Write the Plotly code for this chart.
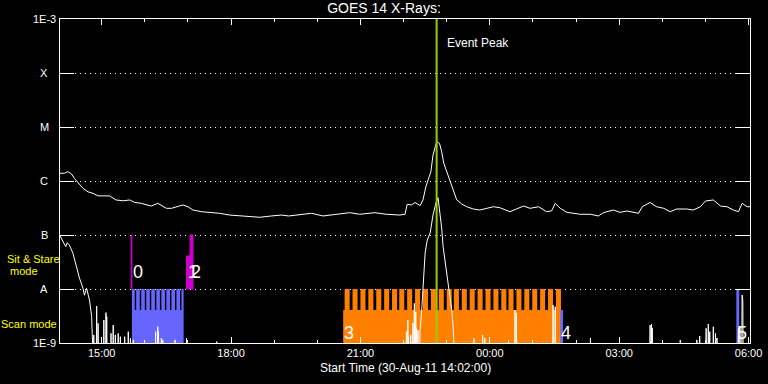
import math
import pandas as pd
import plotly.graph_objects as go

DAY0, DAY1 = "2011-08-30", "2011-08-31"


def ts(hm):
    return pd.Timestamp(f"{DAY0 if int(hm[:2]) >= 14 else DAY1} {hm}")


# ---------------- data ----------------
LEVEL_TICKS = [1e-9, 1e-8, 1e-7, 1e-6, 1e-5, 1e-4, 1e-3]
LEVEL_LABELS = ["1E-9", "A", "B", "C", "M", "X", "1E-3"]
TIME_TICKS = ["15:00", "18:00", "21:00", "00:00", "03:00", "06:00"]
TIME_RANGE = ["14:02", "06:02"]
EVENT_PEAK = "22:46"

# GOES long channel (1-8 A)
LONG_T = ["14:02", "14:08", "14:13", "14:18", "14:22", "14:27", "14:34", "14:41", "14:48", "14:55",
          "15:11", "15:20", "15:30", "15:39", "15:46", "15:55", "16:09", "16:18", "16:30", "16:37",
          "16:44", "16:53", "17:00", "17:07", "17:19", "17:33", "17:44", "17:58", "18:15", "18:29",
          "18:40", "18:56", "19:10", "19:20", "19:38", "19:52", "20:08", "20:31", "20:45", "20:59",
          "21:20", "21:36", "21:55", "22:02", "22:05", "22:11", "22:16", "22:23", "22:27", "22:31",
          "22:34", "22:38", "22:41", "22:44", "22:46", "22:50", "22:53", "22:56", "23:00", "23:05",
          "23:09", "23:14", "23:21", "23:28", "23:37", "23:46", "23:56", "00:05", "00:14", "00:28",
          "00:37", "00:47", "00:56", "01:08", "01:19", "01:26", "01:31", "01:38", "01:47", "02:06",
          "02:20", "02:31", "02:38", "02:52", "03:01", "03:11", "03:27", "03:32", "03:43", "03:52",
          "04:02", "04:11", "04:20", "04:34", "04:43", "04:53", "05:00", "05:11", "05:21", "05:30",
          "05:39", "05:46", "05:51", "05:58", "06:02"]
LONG_F = [1.39e-6, 1.39e-6, 1.49e-6, 1.35e-6, 1.12e-6, 0.93e-6, 0.73e-6, 0.63e-6, 0.59e-6, 0.53e-6,
          0.53e-6, 0.445e-6, 0.43e-6, 0.445e-6, 0.40e-6, 0.386e-6, 0.344e-6, 0.386e-6, 0.312e-6, 0.312e-6,
          0.334e-6, 0.36e-6, 0.334e-6, 0.29e-6, 0.27e-6, 0.263e-6, 0.252e-6, 0.234e-6, 0.225e-6, 0.218e-6,
          0.213e-6, 0.225e-6, 0.234e-6, 0.225e-6, 0.242e-6, 0.252e-6, 0.225e-6, 0.242e-6, 0.259e-6, 0.242e-6,
          0.259e-6, 0.242e-6, 0.234e-6, 0.242e-6, 0.37e-6, 0.36e-6, 0.40e-6, 0.35e-6, 0.445e-6, 0.78e-6,
          1.04e-6, 1.49e-6, 3.03e-6, 4.64e-6, 5.34e-6, 4.99e-6, 3.49e-6, 2.13e-6, 1.49e-6, 0.97e-6,
          0.63e-6, 0.445e-6, 0.375e-6, 0.334e-6, 0.303e-6, 0.29e-6, 0.312e-6, 0.334e-6, 0.32e-6, 0.27e-6,
          0.303e-6, 0.344e-6, 0.312e-6, 0.334e-6, 0.27e-6, 0.28e-6, 0.386e-6, 0.312e-6, 0.263e-6, 0.242e-6,
          0.242e-6, 0.225e-6, 0.259e-6, 0.29e-6, 0.263e-6, 0.278e-6, 0.252e-6, 0.334e-6, 0.40e-6, 0.334e-6,
          0.312e-6, 0.27e-6, 0.303e-6, 0.303e-6, 0.29e-6, 0.334e-6, 0.426e-6, 0.445e-6, 0.344e-6, 0.334e-6,
          0.29e-6, 0.27e-6, 0.386e-6, 0.334e-6, 0.334e-6]

# GOES short channel (0.5-4 A): continuous stretches (values below 1E-9 fall off the plot)
SHORT_DECAY_T = ["14:02", "14:06", "14:10", "14:12", "14:15", "14:20", "14:25", "14:29", "14:34",
                 "14:36", "14:39", "14:41", "14:43", "14:46", "14:47", "14:48"]
SHORT_DECAY_F = [9.6e-8, 7.5e-8, 6.1e-8, 7.2e-8, 6.5e-8, 4.6e-8, 2.6e-8, 1.6e-8, 1.03e-8,
                 7.7e-9, 1.03e-8, 7.7e-9, 6.25e-9, 3.1e-9, 1.5e-9, 5e-10]
SHORT_FLARE_T = ["22:22", "22:23", "22:25", "22:27", "22:30", "22:33", "22:37", "22:41", "22:45", "22:48",
                 "22:51", "22:53", "22:55", "22:59", "23:02", "23:05", "23:07", "23:09", "23:11"]
SHORT_FLARE_F = [5e-10, 1.74e-9, 3.6e-9, 1.29e-8, 4.64e-8, 8.1e-8, 1.09e-7, 2.35e-7, 3.9e-7, 4.9e-7,
                 2.35e-7, 1.35e-7, 6.1e-8, 2.6e-8, 1.1e-8, 6.25e-9, 4.1e-9, 2.0e-9, 5e-10]
# short channel isolated noise spikes poking above 1E-9
SPIKE_T = ["14:49", "14:53", "14:55", "15:03", "15:06", "15:07", "15:13", "15:16", "15:19", "15:23",
           "15:26", "15:32", "15:37", "15:40", "15:44", "16:15", "16:18", "16:19", "16:23", "16:25",
           "16:42", "16:58", "17:40", "22:04", "22:06", "22:07", "22:10", "22:13", "22:15", "22:17",
           "22:18", "22:20", "23:38", "23:50", "23:53", "00:26", "00:35", "00:37", "01:28", "01:31",
           "02:20", "03:43", "03:45", "03:46", "04:25", "04:48", "04:52", "05:01", "05:04", "05:06",
           "05:11", "05:14", "05:16", "05:46", "05:48", "05:51", "05:52"]
SPIKE_F = [1.41e-9, 4.84e-9, 2.32e-9, 2.67e-9, 3.65e-9, 3.07e-9, 1.51e-9, 2.15e-9, 1.41e-9, 1.51e-9,
           1.31e-9, 1.31e-9, 1.62e-9, 1.22e-9, 1.14e-9, 1.62e-9, 2.0e-9, 1.67e-9, 1.22e-9, 1.14e-9,
           1.14e-9, 1.22e-9, 1.06e-9, 1.62e-9, 2.67e-9, 1.31e-9, 1.41e-9, 2.32e-9, 5.43e-9, 3.8e-9,
           1.87e-9, 1.74e-9, 1.22e-9, 1.41e-9, 1.24e-9, 1.14e-9, 4.08e-9, 3.6e-9, 5.06e-9, 4.7e-9,
           1.24e-9, 2.15e-9, 2.25e-9, 1.9e-9, 1.14e-9, 1.14e-9, 1.35e-9, 1.87e-9, 2.25e-9, 1.62e-9,
           2.0e-9, 1.51e-9, 1.24e-9, 1.87e-9, 2.0e-9, 7.74e-9, 6.25e-9]

# observing regions
REGION_ID = [0, 1, 2, 3, 4, 5]
REGION_START = ["15:42", "16:58", "17:03", "20:36", "01:38", "05:43"]
REGION_MODE = ["sit", "sit", "sit", "scan", "scan", "scan"]

# scan-mode observations: continuous base blocks and individual rasters (teeth)
SCAN_LOW = 4.1e-9
SCAN_HIGH = 1e-8
BASE_REGION = [0, 3, 4]
BASE_START = ["15:42", "20:36", "01:38"]
BASE_END = ["16:54", "01:39", "01:42"]
TOOTH_REGION = [0] * 11 + [3] * 28 + [5]
TOOTH_START = ["15:42", "15:48", "15:55", "16:02", "16:09", "16:16", "16:23", "16:30", "16:37", "16:44",
               "16:51",
               "20:38", "20:49", "21:00", "21:11", "21:22", "21:33", "21:44", "21:54", "22:05", "22:16",
               "22:27", "22:38", "22:49", "23:00", "23:10", "23:21", "23:32", "23:43", "23:54", "00:05",
               "00:16", "00:26", "00:37", "00:48", "00:59", "01:10", "01:21", "01:32",
               "05:43"]
TOOTH_END = ["15:46", "15:53", "16:00", "16:07", "16:14", "16:21", "16:28", "16:35", "16:42", "16:49",
             "16:54",
             "20:45", "20:56", "21:07", "21:18", "21:29", "21:40", "21:51", "22:01", "22:12", "22:23",
             "22:34", "22:45", "22:56", "23:07", "23:17", "23:28", "23:39", "23:50", "00:01", "00:12",
             "00:23", "00:33", "00:44", "00:55", "01:06", "01:17", "01:28", "01:39",
             "05:47"]

# sit & stare observations
SIT_BOTTOM = 1e-8
SIT_REGION = [0, 1, 2]
SIT_START = ["15:41", "16:58", "17:03"]
SIT_END = ["15:42", "17:03", "17:07"]
SIT_TOP = [1e-7, 4.1e-8, 1e-7]

# ---------------- style ----------------
SCAN_COLOR = {0: "#6666ff", 3: "#ff8000", 4: "#6666ff", 5: "#6666ff"}
SIT_COLOR = "#cc00cc"
PEAK_COLOR = "#99cc00"
FONT = "Liberation Sans"
FLOOR = 5e-10  # below the plotted range


def rects(starts, ends, bottoms, tops):
    xs, ys = [], []
    for s, e, b, t in zip(starts, ends, bottoms, tops):
        xs += [ts(s), ts(e), ts(e), ts(s), ts(s), None]
        ys += [b, b, t, t, b, None]
    return xs, ys


fig = go.Figure()

for r in [0, 3, 4, 5]:
    bs = [s for s, g in zip(BASE_START, BASE_REGION) if g == r]
    be = [e for e, g in zip(BASE_END, BASE_REGION) if g == r]
    tsx = [s for s, g in zip(TOOTH_START, TOOTH_REGION) if g == r]
    tex = [e for e, g in zip(TOOTH_END, TOOTH_REGION) if g == r]
    x1, y1 = rects(bs, be, [1e-9] * len(bs), [SCAN_LOW] * len(bs))
    x2, y2 = rects(tsx, tex, [1e-9] * len(tsx), [SCAN_HIGH] * len(tsx))
    fig.add_trace(go.Scatter(x=x1 + x2, y=y1 + y2, mode="lines", fill="toself",
                             fillcolor=SCAN_COLOR[r], line=dict(width=0, color=SCAN_COLOR[r]),
                             hoverinfo="skip", showlegend=False))

xs, ys = rects(SIT_START, SIT_END, [SIT_BOTTOM] * len(SIT_START), SIT_TOP)
fig.add_trace(go.Scatter(x=xs, y=ys, mode="lines", fill="toself", fillcolor=SIT_COLOR,
                         line=dict(width=1, color=SIT_COLOR), hoverinfo="skip", showlegend=False))

line_style = dict(color="white", width=1)
fig.add_trace(go.Scatter(x=[ts(t) for t in LONG_T], y=LONG_F, mode="lines", line=line_style,
                         hoverinfo="skip", showlegend=False))
fig.add_trace(go.Scatter(x=[ts(t) for t in SHORT_DECAY_T], y=SHORT_DECAY_F, mode="lines",
                         line=line_style, hoverinfo="skip", showlegend=False))
fig.add_trace(go.Scatter(x=[ts(t) for t in SHORT_FLARE_T], y=SHORT_FLARE_F, mode="lines",
                         line=line_style, hoverinfo="skip", showlegend=False))

half = pd.Timedelta(seconds=30)
sx, sy = [], []
for t, f in zip(SPIKE_T, SPIKE_F):
    sx += [ts(t) - half, ts(t), ts(t) + half]
    sy += [FLOOR, f, FLOOR]
fig.add_trace(go.Scatter(x=sx, y=sy, mode="lines", line=line_style, hoverinfo="skip",
                         showlegend=False))

fig.add_trace(go.Scatter(x=[ts(EVENT_PEAK), ts(EVENT_PEAK)], y=[LEVEL_TICKS[0], LEVEL_TICKS[-1]],
                         mode="lines", line=dict(color=PEAK_COLOR, width=2),
                         hoverinfo="skip", showlegend=False))

ann = []
for v, lab in zip(LEVEL_TICKS, LEVEL_LABELS):
    ann.append(dict(x=0, xref="paper", xshift=-16, y=math.log10(v), yref="y", text=lab,
                    showarrow=False, xanchor="center", yanchor="middle",
                    font=dict(family=FONT, size=11, color="white")))
ann.append(dict(x=0, xref="paper", xshift=-27, y=-7.444, yref="y", text="Sit & Stare",
                showarrow=False, xanchor="center", yanchor="middle",
                font=dict(family=FONT, size=11, color="yellow")))
ann.append(dict(x=0, xref="paper", xshift=-36, y=-7.667, yref="y", text="mode",
                showarrow=False, xanchor="center", yanchor="middle",
                font=dict(family=FONT, size=11, color="yellow")))
ann.append(dict(x=0, xref="paper", xshift=-31, y=-8.648, yref="y", text="Scan mode",
                showarrow=False, xanchor="center", yanchor="middle",
                font=dict(family=FONT, size=11, color="yellow")))
for rid, st, mode in zip(REGION_ID, REGION_START, REGION_MODE):
    ann.append(dict(x=ts(st), xref="x", xshift=-1, y=-7.69 if mode == "sit" else -8.815, yref="y",
                    text=str(rid), showarrow=False, xanchor="left", yanchor="middle",
                    font=dict(family=FONT, size=18, color="white")))
ann.append(dict(x=ts(EVENT_PEAK), xref="x", xshift=8, y=0.926, yref="paper", text="Event Peak",
                showarrow=False, xanchor="left", yanchor="middle",
                font=dict(family=FONT, size=12, color="white")))
ann.append(dict(x=0.5, xref="paper", y=-0.077, yref="paper",
                text="Start Time (30-Aug-11 14:02:00)", showarrow=False,
                xanchor="center", yanchor="middle",
                font=dict(family=FONT, size=12, color="white")))

fig.update_layout(
    template="none",
    width=768, height=384,
    margin=dict(l=60, r=18, t=19, b=41, autoexpand=False),
    paper_bgcolor="black", plot_bgcolor="black",
    title=dict(text="GOES 14 X-Rays:", x=0.5, xref="container", xanchor="center",
               y=1 - 8 / 384, yref="container", yanchor="middle",
               font=dict(family=FONT, size=14, color="white")),
    annotations=ann,
    showlegend=False,
    xaxis=dict(type="date", range=[ts(TIME_RANGE[0]), ts(TIME_RANGE[1])], automargin=False,
               tickmode="array", tickvals=[ts(t) for t in TIME_TICKS], ticktext=TIME_TICKS,
               ticks="inside", ticklen=6, tickcolor="white", tickwidth=1,
               showline=True, linecolor="white", linewidth=1, mirror="ticks",
               showgrid=False, zeroline=False,
               tickfont=dict(family=FONT, size=11, color="white"),
               minor=dict(ticks="inside", ticklen=3, tickcolor="white", tickwidth=1,
                          dtick=3600000, tick0=ts("15:00"), showgrid=False)),
    yaxis=dict(type="log", range=[-9, -3], tickmode="array", tickvals=LEVEL_TICKS, automargin=False,
               showticklabels=False, ticks="inside", ticklen=14, tickcolor="white", tickwidth=1,
               showline=True, linecolor="white", linewidth=1, mirror="ticks",
               showgrid=True, gridcolor="white", gridwidth=1, griddash="1px,4px",
               zeroline=False),
)

fig.write_html("out.html", config={"displayModeBar": False},
               post_script="document.body.style.margin='0';document.body.style.overflow='hidden';")
